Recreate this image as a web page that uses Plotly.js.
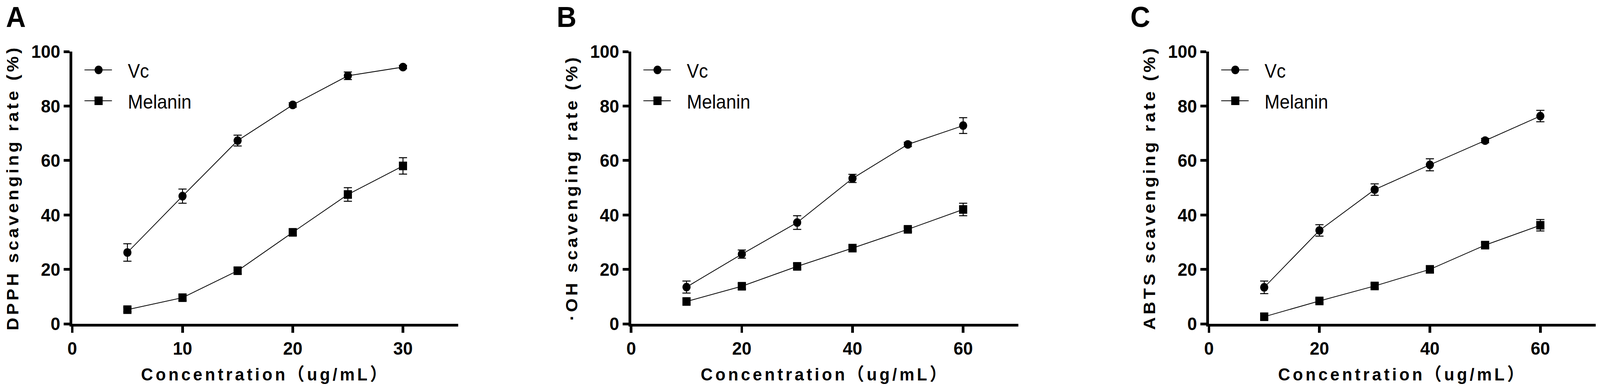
<!DOCTYPE html>
<html>
<head>
<meta charset="utf-8">
<script src="https://cdn.plot.ly/plotly-3.0.1.min.js"></script>
<style>
  html, body { margin: 0; padding: 0; background: #fff; overflow: hidden; }
  #chart { width: 4317px; height: 1001px; transform-origin: 0 0; }
  /* the axis titles in the figure are widely spaced */
  text.xtitle, text.x2title, text.x3title,
  text.ytitle, text.y2title, text.y3title { letter-spacing: 7px; }
</style>
</head>
<body>
<div id="chart"></div>
<script>
// concentrations (ug/mL)
const concDPPH = [5, 10, 15, 20, 25, 30];
const concOH = [10, 20, 30, 40, 50, 60];
const concABTS = [10, 20, 30, 40, 50, 60];

// scavenging rate (%) and error bars
const vcDPPH = [26.2, 46.9, 67.3, 80.4, 91.1, 94.3];
const vcDPPHErr = [3.2, 2.6, 2.0, 0.8, 1.4, 0.6];
const melDPPH = [5.2, 9.6, 19.5, 33.6, 47.5, 58.0];
const melDPPHErr = [0.8, 1.0, 1.2, 1.0, 2.5, 3.0];

const vcOH = [13.5, 25.6, 37.2, 53.4, 65.9, 72.8];
const vcOHErr = [2.2, 1.5, 2.5, 1.5, 0.8, 2.9];
const melOH = [8.2, 13.8, 21.1, 27.8, 34.7, 42.0];
const melOHErr = [0.9, 1.0, 1.0, 0.8, 0.8, 2.3];

const vcABTS = [13.4, 34.3, 49.3, 58.4, 67.3, 76.3];
const vcABTSErr = [2.3, 2.1, 2.1, 2.2, 0.8, 2.1];
const melABTS = [2.6, 8.4, 13.9, 20.0, 28.9, 36.2];
const melABTSErr = [0.8, 0.8, 0.9, 0.9, 1.0, 2.1];

const seriesNames = ['Vc', 'Melanin'];
const seriesSymbols = ['circle', 'square'];
const panelLetters = ['A', 'B', 'C'];
const yTitles = ['DPPH scavenging rate (%)', '\u00B7OH scavenging rate (%)', 'ABTS scavenging rate (%)'];
const xTitle = 'Concentration\uFF08ug/mL\uFF09';
const xRanges = [[0, 35], [0, 70], [0, 70]];
const xTicks = [10, 20, 20];

const BOLD = 'Liberation Sans, Arial, Noto Sans CJK SC, sans-serif';
const W = 4317, H = 1001;

// pixel layout of the three panels
const xDomains = [[195, 1236], [1703, 2748], [3262, 4305]];
const yDomain = [1 - 829 / H, 1 - 132 / H];
const letterX = [14, 1500, 3048];

const panels = [
  {x: concDPPH, vc: vcDPPH, vcErr: vcDPPHErr, mel: melDPPH, melErr: melDPPHErr},
  {x: concOH, vc: vcOH, vcErr: vcOHErr, mel: melOH, melErr: melOHErr},
  {x: concABTS, vc: vcABTS, vcErr: vcABTSErr, mel: melABTS, melErr: melABTSErr}
];

const traces = [];
const shapes = [];
const annotations = [];
const layout = {
  width: W,
  height: H,
  margin: {l: 0, r: 0, t: 0, b: 0},
  paper_bgcolor: '#fff',
  plot_bgcolor: '#fff',
  showlegend: false,
  font: {family: BOLD, color: '#000'}
};

panels.forEach(function (p, i) {
  const suffix = i === 0 ? '' : String(i + 1);
  const xa = 'x' + suffix;
  const ya = 'y' + suffix;

  // two series per panel
  [[p.vc, p.vcErr], [p.mel, p.melErr]].forEach(function (s, k) {
    traces.push({
      x: p.x,
      y: s[0],
      xaxis: xa,
      yaxis: ya,
      type: 'scatter',
      mode: 'lines+markers',
      name: seriesNames[k],
      line: {color: '#000', width: 2},
      marker: {symbol: seriesSymbols[k], size: 22, color: '#000'},
      error_y: {type: 'data', array: s[1], visible: true, color: '#000', thickness: 2.5, width: 11},
      cliponaxis: false
    });
  });

  const axisCommon = {
    showgrid: false,
    zeroline: false,
    showline: true,
    linecolor: '#000',
    linewidth: 7,
    ticks: 'outside',
    ticklen: 16,
    tickwidth: 7,
    tickcolor: '#000',
    tickfont: {family: BOLD, size: 47, weight: 'bold', color: '#000'},
    fixedrange: true
  };

  layout['xaxis' + suffix] = Object.assign({}, axisCommon, {
    domain: [xDomains[i][0] / W, xDomains[i][1] / W],
    anchor: ya,
    range: xRanges[i],
    dtick: xTicks[i],
    tick0: 0,
    title: {text: xTitle, standoff: 28, font: {family: BOLD, size: 45, weight: 'bold', color: '#000'}}
  });
  layout['yaxis' + suffix] = Object.assign({}, axisCommon, {
    domain: yDomain,
    anchor: xa,
    range: [0, 100],
    dtick: 20,
    tick0: 0,
    title: {text: yTitles[i], standoff: 22, font: {family: BOLD, size: 45, weight: 'bold', color: '#000'}}
  });

  // hand drawn legend in the top left of every panel
  const legendY = [0.9326, 0.8192];
  seriesNames.forEach(function (name, k) {
    shapes.push({
      type: 'line', xref: xa + ' domain', yref: ya + ' domain', xsizemode: 'pixel', xanchor: 0,
      x0: 33, x1: 107, y0: legendY[k], y1: legendY[k], line: {color: '#000', width: 2}
    });
    shapes.push({
      type: k === 0 ? 'circle' : 'rect', xref: xa + ' domain', yref: ya + ' domain',
      xsizemode: 'pixel', ysizemode: 'pixel', xanchor: 0, yanchor: legendY[k],
      x0: 60, x1: 82, y0: -11, y1: 11, fillcolor: '#000', line: {color: '#000', width: 0}
    });
    annotations.push({
      text: name, xref: xa + ' domain', yref: ya + ' domain', x: 0, y: legendY[k],
      xshift: 148, yshift: -3, xanchor: 'left', yanchor: 'middle', showarrow: false,
      font: {family: 'Liberation Sans, Arial, sans-serif', size: 49, color: '#000'}
    });
  });

  // panel letter
  annotations.push({
    text: panelLetters[i], xref: 'paper', yref: 'paper', x: letterX[i] / W, y: 1,
    xanchor: 'left', yanchor: 'top', showarrow: false,
    font: {family: BOLD, size: 74, weight: 'bold', color: '#000'}
  });
});

layout.shapes = shapes;
layout.annotations = annotations;

// the browser window can be narrower than the figure: squeeze it to fit
const chartDiv = document.getElementById('chart');
const fit = Math.min(1, window.innerWidth / W);
chartDiv.style.transform = 'scale(' + fit + ', 1)';

Plotly.newPlot(chartDiv, traces, layout, {staticPlot: true, displayModeBar: false});
</script>
</body>
</html>
